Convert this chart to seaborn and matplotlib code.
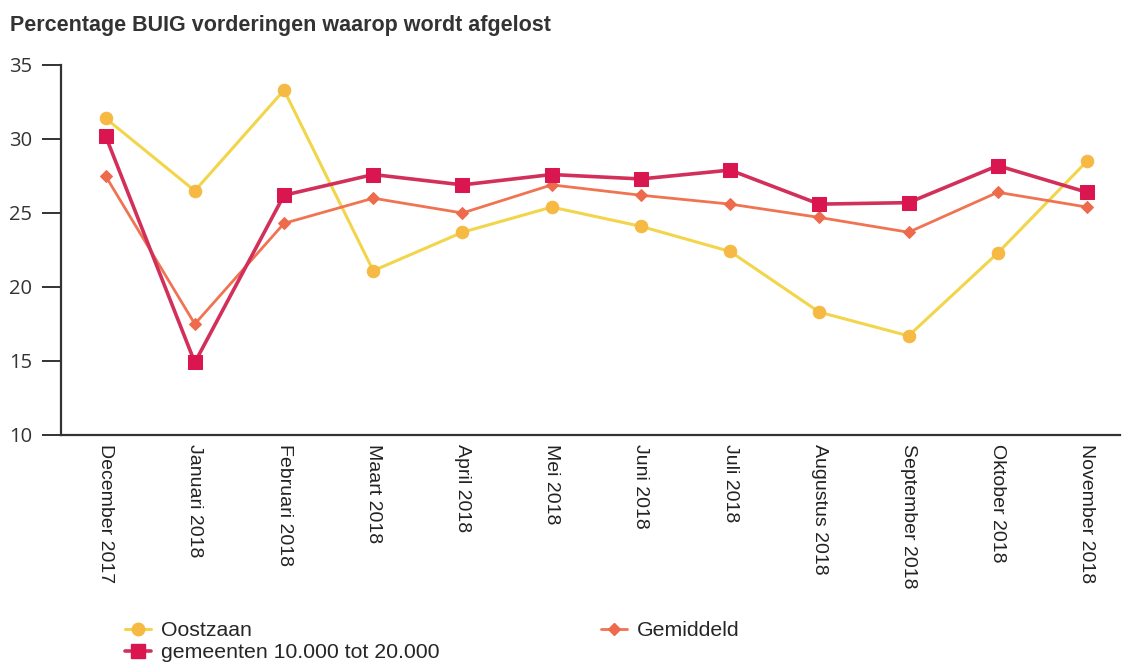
import pandas as pd
import matplotlib.pyplot as plt
import seaborn as sns
from matplotlib.lines import Line2D

months = ["December 2017", "Januari 2018", "Februari 2018", "Maart 2018",
          "April 2018", "Mei 2018", "Juni 2018", "Juli 2018",
          "Augustus 2018", "September 2018", "Oktober 2018", "November 2018"]
oostzaan = [31.4, 26.5, 33.3, 21.1, 23.7, 25.4, 24.1, 22.4, 18.3, 16.7, 22.3, 28.5]
gemeenten = [30.2, 14.9, 26.2, 27.6, 26.9, 27.6, 27.3, 27.9, 25.6, 25.7, 28.2, 26.4]
gemiddeld = [27.5, 17.5, 24.3, 26.0, 25.0, 26.9, 26.2, 25.6, 24.7, 23.7, 26.4, 25.4]

series_names = ["Oostzaan", "gemeenten 10.000 tot 20.000", "Gemiddeld"]
line_colors = ["#F2D54A", "#D2305A", "#F07352"]
marker_colors = ["#F5B944", "#D9164F", "#EE6A4C"]
markers = ["o", "s", "D"]
marker_sizes = [9, 10, 6]
line_widths = [2.2, 2.6, 2.0]

df = pd.DataFrame({"maand": months, series_names[0]: oostzaan,
                   series_names[1]: gemeenten, series_names[2]: gemiddeld})
df["pos"] = range(len(months))

sns.set_style("white")
plt.rcParams["font.family"] = ["Liberation Sans", "DejaVu Sans"]

fig = plt.figure(figsize=(11.23, 6.63), dpi=100)
ax = fig.add_axes([61 / 1123, 228 / 663, (1120 - 61) / 1123, 370 / 663])

# draw in order so gemeenten ends up on top
for i in [0, 2, 1]:
    sns.lineplot(data=df, x="pos", y=series_names[i], ax=ax, color=line_colors[i],
                 linewidth=line_widths[i], marker=markers[i], markersize=marker_sizes[i],
                 markerfacecolor=marker_colors[i], markeredgecolor=marker_colors[i])

ax.set_xlim(-0.5, 11.37)
ax.set_ylim(10, 35)
ax.set_yticks([10, 15, 20, 25, 30, 35])
ax.set_yticklabels([10, 15, 20, 25, 30, 35], fontfamily="Open Sans", fontsize=14.5, color="#333333")
ax.set_xticks(df["pos"])
ax.set_xticklabels(months, rotation=-90, fontsize=14, color="#222222", va="top", ha="center")
ax.set_xlabel("")
ax.set_ylabel("")

for side in ["top", "right"]:
    ax.spines[side].set_visible(False)
for side in ["left", "bottom"]:
    ax.spines[side].set_color("#333333")
    ax.spines[side].set_linewidth(1.6)
ax.tick_params(axis="y", left=True, length=14, width=1.4, color="#333333", pad=7)
ax.tick_params(axis="x", bottom=False, pad=3)

fig.text(10 / 1123, 1 - 26 / 663, "Percentage BUIG vorderingen waarop wordt afgelost",
         fontsize=15.5, fontweight="bold", color="#333333", va="center")

handles = [Line2D([], [], color=line_colors[i], linewidth=line_widths[i], marker=markers[i],
                  markersize=marker_sizes[i], markerfacecolor=marker_colors[i],
                  markeredgecolor=marker_colors[i]) for i in range(3)]
fig.legend(handles, series_names, loc="upper left", bbox_to_anchor=(125 / 1123, 42 / 663),
           ncol=2, frameon=False, fontsize=15.3, handlelength=1.2, handletextpad=0.5,
           columnspacing=7.6, labelspacing=0.15, borderaxespad=0, borderpad=0)

fig.savefig("out.png", dpi=100, facecolor="white")
